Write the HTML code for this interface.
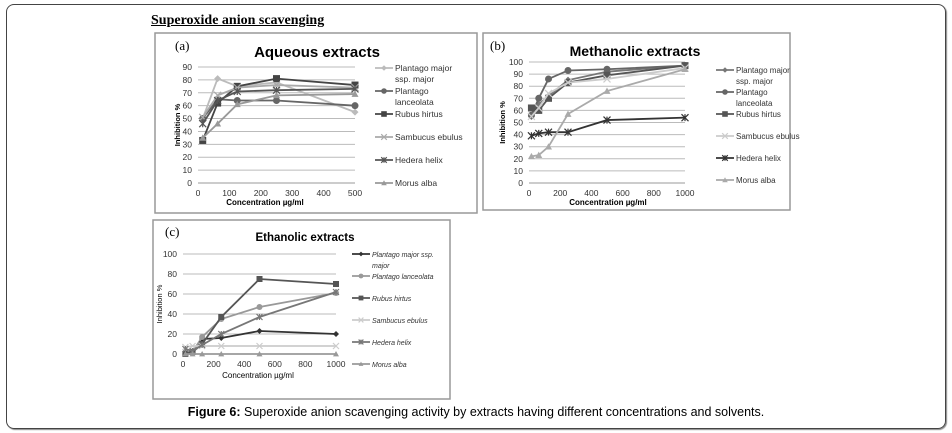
<!DOCTYPE html>
<html><head><meta charset="utf-8"><style>
body{margin:0;width:952px;height:433px;background:#fff;position:relative;overflow:hidden;font-family:"Liberation Sans",sans-serif}
#frame{position:absolute;left:6px;top:4px;width:938px;height:423px;border:1px solid #444;border-radius:8px;box-shadow:1px 1px 1px #888}
#title{position:absolute;left:151px;top:13px;font-family:"Liberation Serif",serif;font-weight:bold;font-size:14px;text-decoration:underline}
#cap{position:absolute;left:0;width:952px;text-align:center;top:405px;font-size:12.5px}
svg{position:absolute;left:0;top:0}
</style></head><body>
<div id="frame"></div>
<div id="title">Superoxide anion scavenging</div>
<div id="cap"><b>Figure 6:</b> Superoxide anion scavenging activity by extracts having different concentrations and solvents.</div>
<svg id="svg" width="952" height="433"></svg>
<script>
const seriesNames=["Plantago major ssp. major","Plantago lanceolata","Rubus hirtus","Sambucus ebulus","Hedera helix","Morus alba"];
const aqX=[15,62.5,125,250,500];
const aqPM=[50,81,75,78,55];
const aqPL=[50,65,64,64,60];
const aqRH=[33,62,75,81,76];
const aqSE=[51,68,74,76,74];
const aqHH=[46,64,71,72,73];
const aqMA=[35,46,61,68,69];
const meX=[15.6,62.5,125,250,500,1000];
const mePM=[55,65,72,85,92,97];
const mePL=[56,70,86,93,94,97];
const meRH=[62,60,70,83,89,97];
const meSE=[55,62,74,83,86,95];
const meHH=[39,41,42,42,52,54];
const meMA=[22,23,30,57,76,94];
const etX=[15.6,62.5,125,250,500,1000];
const etPM=[0,3,15,16,23,20];
const etPL=[0,2,17,35,47,61];
const etRH=[0,2,10,37,75,70];
const etSE=[7,8,8,8,8,8];
const etHH=[5,3,9,20,37,62];
const etMA=[0,0,0,0,0,0];
const aqTicksX=[0,100,200,300,400,500];
const aqTicksY=[0,10,20,30,40,50,60,70,80,90];
const meTicksX=[0,200,400,600,800,1000];
const meTicksY=[0,10,20,30,40,50,60,70,80,90,100];
const etTicksX=[0,200,400,600,800,1000];
const etTicksY=[0,20,40,60,80,100];

const svg=document.getElementById('svg');
const NS='http://www.w3.org/2000/svg';
function mk(t,a,parent){const e=document.createElementNS(NS,t);for(const k in a)e.setAttribute(k,a[k]);(parent||svg).appendChild(e);return e;}
function txt(s,a,parent){const e=mk('text',a,parent);e.textContent=s;return e;}
function marker(g,type,x,y,c,s){
 if(type==='diamond')mk('path',{d:`M${x} ${y-s}L${x+s} ${y}L${x} ${y+s}L${x-s} ${y}Z`,fill:c},g);
 else if(type==='circle')mk('circle',{cx:x,cy:y,r:s,fill:c},g);
 else if(type==='square')mk('rect',{x:x-s,y:y-s,width:2*s,height:2*s,fill:c},g);
 else if(type==='x'){mk('path',{d:`M${x-s} ${y-s}L${x+s} ${y+s}M${x-s} ${y+s}L${x+s} ${y-s}`,stroke:c,'stroke-width':1.2},g);}
 else if(type==='star'){mk('path',{d:`M${x-s} ${y-s}L${x+s} ${y+s}M${x-s} ${y+s}L${x+s} ${y-s}M${x} ${y-s}L${x} ${y+s}`,stroke:c,'stroke-width':1.2},g);}
 else if(type==='tri')mk('path',{d:`M${x} ${y-s}L${x+s} ${y+s*0.8}L${x-s} ${y+s*0.8}Z`,fill:c},g);
}
const types=['diamond','circle','square','x','star','tri'];
function chart(o){
 const g=mk('g',{});
 
 
 mk('rect',{x:o.box[0],y:o.box[1],width:o.box[2],height:o.box[3],fill:'#fff',stroke:'#999','stroke-width':1.5},g);
 const sx=v=>o.px0+(v-o.xmin)/(o.xmax-o.xmin)*(o.px1-o.px0);
 const sy=v=>o.py0-(v)/(o.ymax)*(o.py0-o.py1);
 o.ty.forEach(t=>{
  if(t>0){const l=mk('line',{x1:o.px0,x2:o.px1,y1:sy(t),y2:sy(t),stroke:'#bbb','stroke-width':1},g);}
  const e=txt(t,{x:o.px0-6,y:sy(t)+3,'font-size':8.5,'text-anchor':'end',fill:'#333'},g);
  
 });
 mk('line',{x1:o.px0,x2:o.px1,y1:o.py0,y2:o.py0,stroke:'#999'},g);
 o.tx.forEach(t=>{const e=txt(t,{x:sx(t),y:o.py0+13,'font-size':8.5,'text-anchor':'middle',fill:'#333'},g);});
 const tt=txt(o.title,{x:o.tpos[0],y:o.tpos[1],'font-size':o.tsize,'font-weight':'bold','text-anchor':'middle'},g);
 
 const pl=txt(o.label,{x:o.lpos[0],y:o.lpos[1],'font-size':13,'font-family':'Liberation Serif'},g);
 
 const xt=txt('Concentration µg/ml',{x:o.xtpos[0],y:o.xtpos[1],'font-size':8,'font-weight':o.bold?'bold':'normal','text-anchor':'middle'},g);
 
 const yt=txt('Inhibition %',{x:0,y:0,'font-size':7.5,'font-weight':o.bold?'bold':'normal','text-anchor':'middle',transform:`translate(${o.ytx},${(o.py0+o.py1)/2}) rotate(-90)`},g);
 
 o.series.forEach((ys,i)=>{
  const c=o.colors[i];
  const p=mk('polyline',{points:o.xs.map((x,j)=>sx(x)+','+sy(ys[j])).join(' '),fill:'none',stroke:c,'stroke-width':1.8},g);
  
  o.xs.forEach((x,j)=>marker(g,types[i],sx(x),sy(ys[j]),c,o.ms));
  const ly=o.leg[1]+i*o.leg[2];
  const lg=mk('g',{},g);
  
  mk('line',{x1:o.leg[0],x2:o.leg[0]+18,y1:ly,y2:ly,stroke:c,'stroke-width':1.8},lg);
  marker(lg,types[i],o.leg[0]+9,ly,c,o.ms*0.8);
  const lines=o.legText[i];
  lines.forEach((s,k)=>txt(s,{x:o.leg[0]+20,y:ly+3+k*11,'font-size':o.lfs,'font-style':o.italic?'italic':'normal',fill:'#333'},lg));
 });
}
const cA=['#bbb','#666','#444','#aaa','#555','#999'];
chart({name:'aqueous-chart',box:[155,33,322,180],px0:198,px1:355,py0:183,py1:67,xmin:0,xmax:500,ymax:90,
 tx:aqTicksX,ty:aqTicksY,xs:aqX,series:[aqPM,aqPL,aqRH,aqSE,aqHH,aqMA],colors:cA,ms:3.5,
 title:'Aqueous extracts',tpos:[317,57],tsize:15,label:'(a)',lpos:[175,50],xtpos:[265,205],ytx:180,bold:true,
 leg:[375,68,23],lfs:8.5,legText:[["Plantago major","ssp. major"],["Plantago","lanceolata"],["Rubus hirtus"],["Sambucus ebulus"],["Hedera helix"],["Morus alba"]]});
chart({name:'methanolic-chart',box:[483,33,307,177],px0:529,px1:685,py0:183,py1:62,xmin:0,xmax:1000,ymax:100,
 tx:meTicksX,ty:meTicksY,xs:meX,series:[mePM,mePL,meRH,meSE,meHH,meMA],colors:['#777','#666','#555','#ccc','#333','#aaa'],ms:3.5,
 title:'Methanolic extracts',tpos:[635,56],tsize:14,label:'(b)',lpos:[490,50],xtpos:[608,205],ytx:505,bold:true,
 leg:[716,70,22],lfs:8,legText:[["Plantago major","ssp. major"],["Plantago","lanceolata"],["Rubus hirtus"],["Sambucus ebulus"],["Hedera helix"],["Morus alba"]]});
chart({name:'ethanolic-chart',box:[153,220,297,179],px0:183,px1:336,py0:354,py1:254,xmin:0,xmax:1000,ymax:100,
 tx:etTicksX,ty:etTicksY,xs:etX,series:[etPM,etPL,etRH,etSE,etHH,etMA],colors:['#333','#999','#555','#ccc','#777','#999'],ms:3,
 title:'Ethanolic extracts',tpos:[305,241],tsize:11.5,label:'(c)',lpos:[165,236],xtpos:[258,378],ytx:162,bold:false,italic:true,
 leg:[352,254,22],lfs:7,legText:[["Plantago major ssp.","major"],["Plantago lanceolata"],["Rubus hirtus"],["Sambucus ebulus"],["Hedera helix"],["Morus alba"]]});
</script>
</body></html>
